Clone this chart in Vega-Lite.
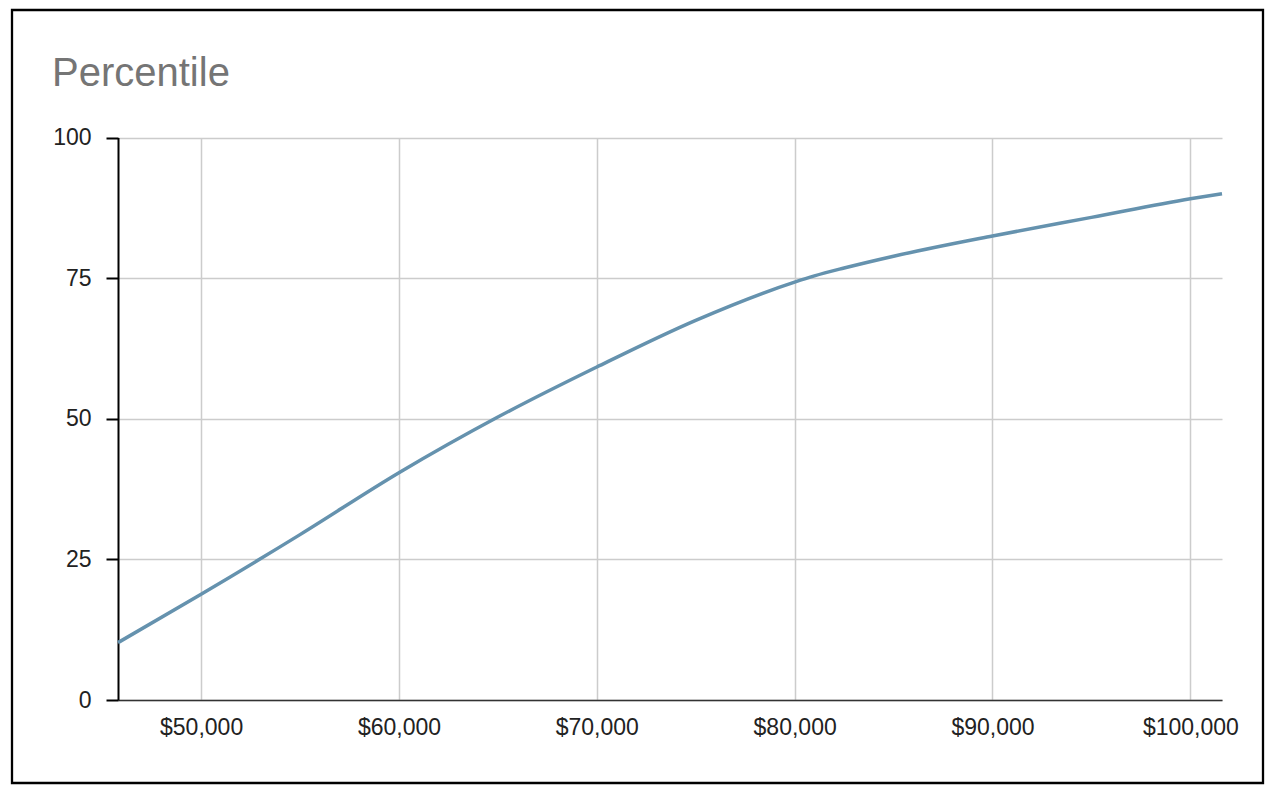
{
  "$schema": "https://vega.github.io/schema/vega-lite/v6.json",
  "autosize": {"type": "none"},
  "padding": {"left": 12, "top": 10, "right": 14, "bottom": 8},
  "width": 1251,
  "height": 773,
  "background": "#ffffff",
  "title": {
    "text": "Percentile",
    "anchor": "start",
    "frame": "group",
    "orient": "top",
    "offset": -116,
    "dx": 40,
    "baseline": "alphabetic",
    "font": "Liberation Sans",
    "fontSize": 40,
    "fontWeight": "normal",
    "color": "#757575"
  },
  "config": {
    "view": {"stroke": "#000000", "strokeWidth": 2.3},
    "axis": {"labelFont": "Liberation Sans", "labelFontSize": 23, "labelColor": "#222222"}
  },
  "data": {
    "values": [
      {"salary": 45800, "percentile": 10.2},
      {"salary": 50000, "percentile": 18.8},
      {"salary": 55000, "percentile": 29.4},
      {"salary": 60000, "percentile": 40.4},
      {"salary": 65000, "percentile": 50.3},
      {"salary": 70000, "percentile": 59.2},
      {"salary": 75000, "percentile": 67.5},
      {"salary": 80000, "percentile": 74.3},
      {"salary": 81000, "percentile": 75.4},
      {"salary": 82500, "percentile": 76.8},
      {"salary": 85000, "percentile": 78.9},
      {"salary": 90000, "percentile": 82.5},
      {"salary": 95000, "percentile": 85.8},
      {"salary": 100000, "percentile": 89.1},
      {"salary": 101600, "percentile": 90.0}
    ]
  },
  "encoding": {
    "y": {
      "field": "percentile",
      "type": "quantitative",
      "scale": {"domain": [0, 100], "range": [690, 127.5], "nice": false, "zero": true},
      "axis": {
        "title": null,
        "orient": "left",
        "offset": -106,
        "values": [0, 25, 50, 75, 100],
        "ticks": true,
        "tickSize": 12,
        "tickColor": "#000000",
        "tickWidth": 2,
        "domainColor": "#000000",
        "domainWidth": 2,
        "labelPadding": 15,
        "grid": true,
        "gridColor": "#cccccc",
        "gridWidth": 1.5
      }
    }
  },
  "layer": [
    {
      "mark": {"type": "line", "opacity": 0},
      "encoding": {
        "x": {
          "field": "salary",
          "type": "quantitative",
          "scale": {"domain": [45800, 101600], "range": [106, 1210], "nice": false, "zero": false},
          "axis": {
            "title": null,
            "orient": "top",
            "values": [50000, 60000, 70000, 80000, 90000, 100000],
            "labels": false,
            "ticks": false,
            "domain": false,
            "grid": true,
            "gridColor": "#cccccc",
            "gridWidth": 1.5
          }
        }
      }
    },
    {
      "mark": {"type": "line", "interpolate": "monotone", "color": "#6592ae", "strokeWidth": 3.5},
      "encoding": {
        "x": {
          "field": "salary",
          "type": "quantitative",
          "scale": {"domain": [45800, 101600], "range": [106, 1210], "nice": false, "zero": false},
          "axis": {
            "title": null,
            "orient": "bottom",
            "offset": -83,
            "values": [50000, 60000, 70000, 80000, 90000, 100000],
            "format": "$,d",
            "ticks": false,
            "labelPadding": 16,
            "domainColor": "#333333",
            "domainWidth": 1.5,
            "grid": false
          }
        }
      }
    }
  ],
  "resolve": {"axis": {"x": "independent"}}
}
